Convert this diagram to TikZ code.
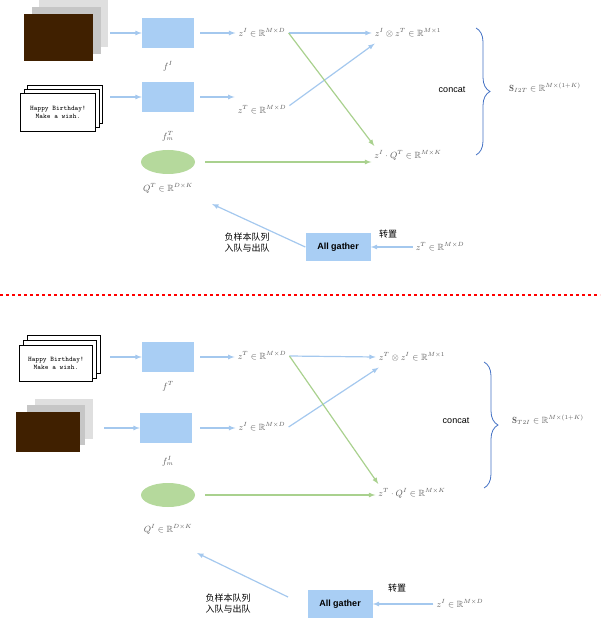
\documentclass[tikz,border=0pt]{standalone}
\usepackage{amssymb,amsmath}
\usepackage{fontspec}
\newfontfamily\sans{Liberation Sans}
\newfontfamily\cjk{Noto Sans CJK SC}
\usepackage{tikz}
\usetikzlibrary{arrows,positioning,shapes.geometric,decorations.pathreplacing}
\definecolor{lblue}{HTML}{A4C8EE}
\definecolor{bfill}{HTML}{A9CEF4}
\definecolor{lgreen}{HTML}{A9D18E}
\definecolor{efill}{HTML}{B5D99C}
\definecolor{bracec}{HTML}{4472C4}
\tikzset{
  enc/.style={fill=bfill, minimum width=52pt, minimum height=30pt, inner sep=0pt},
  gather/.style={fill=bfill, minimum width=65pt, minimum height=28pt, font=\sans\bfseries\small},
  queue/.style={ellipse, fill=efill, minimum width=54pt, minimum height=24pt, inner sep=0pt},
  mt/.style={font=\small, text=black!65, inner sep=0pt},
  barrow/.style={->, >=latex, lblue, line width=1.2pt},
  garrow/.style={->, >=latex, lgreen, line width=1.2pt},
  card/.style={draw, fill=white, minimum width=#1, minimum height=38pt, font=\ttfamily\scriptsize, align=center, inner sep=1pt},
  card/.default=75pt,
  photo/.style={fill=#1, minimum width=69pt, minimum height=47pt},
  cn/.style={font=\cjk\small, align=left}
}
\begin{document}
\begin{tikzpicture}[x=1pt, y=-1pt]
\useasboundingbox (0,0) rectangle (600,620);
% top panel: image -> text
\node[photo=gray!25] (pa3) at (73,24) {};
\node[photo=gray!45] (pa2) at (66,31) {};
\node[photo=black!75!orange] (pa) at (58,38) {};
\node[card] (tc3) at (65,104) {};
\node[card] (tc2) at (62,108) {};
\node[card] (tc) at (58,112) {Happy Birthday!\\Make a wish.};
\node[enc] (fI) at (168,33) {};
\node[mt] at (168,66) {$f^{I}$};
\node[enc] (fmT) at (168,97) {};
\node[mt] at (168,136) {$f^{T}_{m}$};
\node[queue] (QT) at (168,162) {};
\node[mt] at (168,188) {$Q^{T}\in\mathbb{R}^{D\times K}$};
\node[mt] (zI) at (262,33) {$z^{I}\in\mathbb{R}^{M\times D}$};
\node[mt] (zT) at (262,110) {$z^{T}\in\mathbb{R}^{M\times D}$};
\node[mt] (pos) at (408,33) {$z^{I}\otimes z^{T}\in\mathbb{R}^{M\times 1}$};
\node[mt] (neg) at (408,155) {$z^{I}\cdot Q^{T}\in\mathbb{R}^{M\times K}$};
\node[font=\sans\small] at (452,90) {concat};
\node[mt] (S) at (545,88) {$\mathbf{S}_{I2T}\in\mathbb{R}^{M\times(1+K)}$};
\node[gather] (ag) at (338,247) {All gather};
\node[font=\cjk\small] at (388,234) {转置};
\node[mt] (zT2) at (440,247) {$z^{T}\in\mathbb{R}^{M\times D}$};
\node[cn] at (247,243) {负样本队列\\入队与出队};
\coordinate (q1) at (212,204);
\coordinate (a1) at (110,33);
\coordinate (a2) at (110,97);
\coordinate (a3) at (200,33);
\coordinate (a4) at (200,97);
\draw[barrow] (a1) -- (fI.west);
\draw[barrow] (a2) -- (fmT.west);
\draw[barrow] (a3) -- ([xshift=-3pt]zI.west);
\draw[barrow] (a4) -- ([xshift=-3pt]zT.west |- a4);
\draw[barrow] ([xshift=3pt]zI.east) -- ([xshift=-3pt]pos.west);
\draw[barrow] ([xshift=3pt]zT.north east) -- ([yshift=-6pt]pos.south west);
\draw[garrow] ([xshift=3pt]zI.east) -- ([yshift=4pt]neg.north west);
\draw[garrow] (QT.east) ++(10,0) coordinate (g1) -- ([xshift=-3pt]neg.west |- g1);
\draw[barrow] ([xshift=-3pt]zT2.west) -- (ag.east);
\draw[barrow] (ag.west) -- (q1);
\draw[bracec, thick, decorate, decoration={brace, amplitude=14pt}] (476,28) -- (476,155);
% separator
\draw[red, dashed, line width=1.2pt] (0,295) -- (600,295);
% bottom panel: text -> image
\node[card=73pt] (tb3) at (64,354) {};
\node[card=73pt] (tb2) at (60,359) {};
\node[card=73pt, minimum height=36pt] (tb) at (56,363) {Happy Birthday!\\Make a wish.};
\node[photo=gray!25, minimum width=58pt, minimum height=40pt] (pb3) at (64,419) {};
\node[photo=gray!45, minimum width=58pt, minimum height=40pt] (pb2) at (56,425) {};
\node[photo=black!75!orange, minimum width=64pt, minimum height=40pt] (pb) at (48,432) {};
\node[enc] (fT) at (168,357) {};
\node[mt] at (168,386) {$f^{T}$};
\node[enc] (fmI) at (166,428) {};
\node[mt] at (168,461) {$f^{I}_{m}$};
\node[queue] (QI) at (168,495) {};
\node[mt] at (168,529) {$Q^{I}\in\mathbb{R}^{D\times K}$};
\node[mt] (zTb) at (262,356) {$z^{T}\in\mathbb{R}^{M\times D}$};
\node[mt] (zIb) at (262,427) {$z^{I}\in\mathbb{R}^{M\times D}$};
\node[mt] (posb) at (412,357) {$z^{T}\otimes z^{I}\in\mathbb{R}^{M\times 1}$};
\node[mt] (negb) at (412,493) {$z^{T}\cdot Q^{I}\in\mathbb{R}^{M\times K}$};
\node[font=\sans\small] at (456,421) {concat};
\node[mt] (Sb) at (548,420) {$\mathbf{S}_{T2I}\in\mathbb{R}^{M\times(1+K)}$};
\node[gather] (agb) at (340,604) {All gather};
\node[font=\cjk\small] at (397,588) {转置};
\node[mt] (zIb2) at (460,604) {$z^{I}\in\mathbb{R}^{M\times D}$};
\node[cn] at (228,604) {负样本队列\\入队与出队};
\coordinate (q2) at (197,553);
\coordinate (b1) at (110,357);
\coordinate (b2) at (104,428);
\coordinate (b3) at (200,357);
\coordinate (b4) at (200,428);
\coordinate (b5) at (288,597);
\draw[barrow] (b1) -- (fT.west);
\draw[barrow] (b2) -- (fmI.west);
\draw[barrow] (b3) -- ([xshift=-3pt]zTb.west |- b3);
\draw[barrow] (b4) -- ([xshift=-3pt]zIb.west |- b4);
\draw[barrow] ([xshift=3pt]zTb.east) -- ([xshift=-3pt]posb.west);
\draw[barrow] ([xshift=3pt]zIb.east) -- ([yshift=-6pt]posb.south west);
\draw[garrow] ([xshift=3pt]zTb.east) -- ([yshift=4pt]negb.north west);
\draw[garrow] (QI.east) ++(10,0) coordinate (g2) -- ([xshift=-3pt]negb.west |- g2);
\draw[barrow] ([xshift=-3pt]zIb2.west) -- (agb.east);
\draw[barrow] (b5) -- (q2);
\draw[bracec, thick, decorate, decoration={brace, amplitude=14pt}] (484,362) -- (484,488);
\end{tikzpicture}
\end{document}
